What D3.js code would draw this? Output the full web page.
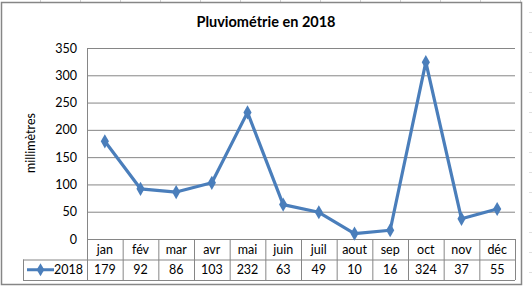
<!DOCTYPE html>
<html>
<head>
<meta charset="utf-8">
<script src="https://cdn.jsdelivr.net/npm/d3@7"></script>
<style>
  body { margin: 0; background: #fff; }
  text { font-family: Lato, "Open Sans", sans-serif; fill: #000; }
</style>
</head>
<body>
<div id="chart"></div>
<script>
    const months = ["jan", "fév", "mar", "avr", "mai", "juin", "juil", "aout", "sep", "oct", "nov", "déc"]
    const rain2018 = [179, 92, 86, 103, 232, 63, 49, 10, 16, 324, 37, 55]
    const yTicks = [0, 50, 100, 150, 200, 250, 300, 350]
    const seriesName = "2018"
    const title = "Pluviométrie en 2018"
    const yTitle = "millimètres"

    const W = 532, H = 288
    const plotLeft = 87, plotRight = 515, plotTop = 48, plotBottom = 239
    const rowH = 20.5 // height of a table row
    const legendLeft = 23
    const blue = "#4a7ebb", gridColor = "#868686"

    let svg = d3.select("#chart")
        .append("svg")
        .attr("width", W)
        .attr("height", H)

    // spreadsheet cells peeking around the chart
    svg.append("g").selectAll("line").data(d3.range(40, 532, 40)).enter()
        .append("line")
        .attr("x1", d => d + 0.5).attr("x2", d => d + 0.5)
        .attr("y1", 0).attr("y2", 2)
        .attr("stroke", "#d0d0d0")
    svg.append("g").selectAll("line").data(d3.range(12, 288, 20)).enter()
        .append("line")
        .attr("x1", 529).attr("x2", 532)
        .attr("y1", d => d + 0.5).attr("y2", d => d + 0.5)
        .attr("stroke", "#e0e0e0")

    // chart border
    svg.append("rect")
        .attr("x", 1.5).attr("y", 2.5)
        .attr("width", 520).attr("height", 282)
        .attr("fill", "#fff")
        .attr("stroke", gridColor)
        .attr("stroke-width", 1.5)

    let x = d3.scaleBand() // one column of the data table per month
        .domain(months)
        .range([plotLeft, plotRight])

    let y = d3.scaleLinear()
        .domain([0, 350])
        .range([plotBottom, plotTop])

    // horizontal gridlines + y labels
    let yAxis = svg.append("g")
        .attr("transform", "translate(" + plotLeft + ",0)")
        .call(d3.axisLeft(y).tickValues(yTicks).tickSize(-(plotRight - plotLeft)).tickPadding(10))
    yAxis.select(".domain").remove()
    yAxis.selectAll(".tick line").attr("stroke", gridColor)
    yAxis.selectAll(".tick text")
        .attr("font-size", 12.5)
        .attr("font-family", "Lato, sans-serif")
        .attr("fill", "#000")

    // data table
    let table = svg.append("g")
        .attr("stroke", gridColor)
        .attr("fill", "none")
    table.append("line") // left edge of plot down through table
        .attr("x1", plotLeft + 0.5).attr("x2", plotLeft + 0.5)
        .attr("y1", plotTop).attr("y2", plotBottom + 2 * rowH)
    table.selectAll(".col").data(months).enter()
        .append("line")
        .attr("x1", d => x(d) + x.bandwidth() + 0.5)
        .attr("x2", d => x(d) + x.bandwidth() + 0.5)
        .attr("y1", plotBottom).attr("y2", plotBottom + 2 * rowH)
    table.append("line")
        .attr("x1", legendLeft).attr("x2", plotRight)
        .attr("y1", plotBottom + rowH + 0.5).attr("y2", plotBottom + rowH + 0.5)
    table.append("line")
        .attr("x1", legendLeft).attr("x2", plotRight)
        .attr("y1", plotBottom + 2 * rowH + 0.5).attr("y2", plotBottom + 2 * rowH + 0.5)
    table.append("line")
        .attr("x1", legendLeft + 0.5).attr("x2", legendLeft + 0.5)
        .attr("y1", plotBottom + rowH).attr("y2", plotBottom + 2 * rowH)

    svg.append("g").selectAll("text").data(months).enter()
        .append("text")
        .attr("x", d => x(d) + x.bandwidth() / 2)
        .attr("y", plotBottom + rowH / 2 + 4.5)
        .attr("text-anchor", "middle")
        .attr("font-size", 12.5)
        .text(d => d)

    svg.append("g").selectAll("text").data(rain2018).enter()
        .append("text")
        .attr("x", (d, i) => x(months[i]) + x.bandwidth() / 2)
        .attr("y", plotBottom + rowH * 1.5 + 4.5)
        .attr("text-anchor", "middle")
        .attr("font-size", 12.5)
        .text(d => d)

    // legend key inside the table
    let keyY = plotBottom + rowH * 1.5
    svg.append("line")
        .attr("x1", 27).attr("x2", 54)
        .attr("y1", keyY).attr("y2", keyY)
        .attr("stroke", blue).attr("stroke-width", 3)
    svg.append("path")
        .attr("d", d3.symbol(d3.symbolDiamond, 50)())
        .attr("transform", "translate(40.5," + keyY + ")")
        .attr("fill", blue)
    svg.append("text")
        .attr("x", 83).attr("y", keyY + 4.5)
        .attr("text-anchor", "end")
        .attr("font-size", 12.5)
        .text(seriesName)

    // the line
    let line = d3.line()
        .x((d, i) => x(months[i]) + x.bandwidth() / 2)
        .y(d => y(d))
    svg.append("path")
        .datum(rain2018)
        .attr("d", line)
        .attr("fill", "none")
        .attr("stroke", blue)
        .attr("stroke-width", 3.2)
        .attr("stroke-linejoin", "round")

    svg.append("g").selectAll("path").data(rain2018).enter()
        .append("path")
        .attr("d", d3.symbol(d3.symbolDiamond, 58)())
        .attr("transform", (d, i) => "translate(" + (x(months[i]) + x.bandwidth() / 2) + "," + y(d) + ")")
        .attr("fill", blue)

    // titles
    svg.append("text")
        .attr("x", 266).attr("y", 27)
        .attr("text-anchor", "middle")
        .attr("font-size", 14.5)
        .attr("font-weight", "bold")
        .text(title)

    svg.append("text")
        .attr("transform", "translate(35,143) rotate(-90)")
        .attr("text-anchor", "middle")
        .attr("font-size", 12.5)
        .text(yTitle)
</script>
</body>
</html>
